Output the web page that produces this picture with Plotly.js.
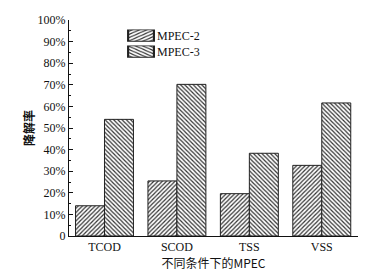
<!DOCTYPE html>
<html><head><meta charset="utf-8">
<script src="https://cdn.plot.ly/plotly-3.0.1.min.js"></script>
<style>html,body{margin:0;padding:0;background:#fff}#chart{width:382px;height:272px}</style>
</head><body><div id="chart"></div>
<script>
const categories = ['TCOD', 'SCOD', 'TSS', 'VSS'];
const mpec2 = [14, 25.5, 19.6, 32.7];
const mpec3 = [54, 70.2, 38.3, 61.6];
const yTickVals = [0, 10, 20, 30, 40, 50, 60, 70, 80, 90, 100];
const yTickText = ['0', '10%', '20%', '30%', '40%', '50%', '60%', '70%', '80%', '90%', '100%'];

const serif = 'Liberation Serif, Times New Roman, serif';
const traces = [
  {type: 'bar', name: 'MPEC-2', x: categories, y: mpec2,
   marker: {color: '#ffffff', line: {color: '#222', width: 1},
            pattern: {shape: '/', fgcolor: '#333', bgcolor: '#fff', size: 3, solidity: 0.4}}},
  {type: 'bar', name: 'MPEC-3', x: categories, y: mpec3,
   marker: {color: '#ffffff', line: {color: '#222', width: 1},
            pattern: {shape: '\\', fgcolor: '#333', bgcolor: '#fff', size: 3, solidity: 0.4}}}
];
const layout = {
  width: 382, height: 272,
  margin: {l: 69, r: 24, t: 20, b: 36},
  paper_bgcolor: '#fff', plot_bgcolor: '#fff',
  font: {family: serif, size: 12, color: '#111'},
  barmode: 'group', bargap: 0.2, bargroupgap: 0,
  showlegend: true,
  legend: {x: 0.18, y: 0.995, xanchor: 'left', yanchor: 'top', bgcolor: 'rgba(0,0,0,0)',
           font: {family: serif, size: 12, color: '#111'}, tracegroupgap: 0},
  xaxis: {range: [-0.49, 3.5], showline: true, linecolor: '#111', linewidth: 1,
          ticks: '', showgrid: false, zeroline: false,
          tickfont: {family: serif, size: 12},
          title: {text: '不同条件下的MPEC', font: {family: 'Noto Sans CJK SC, ' + serif, size: 12}, standoff: 2}},
  yaxis: {range: [0, 100], showline: true, linecolor: '#111', linewidth: 1,
          tickvals: yTickVals, ticktext: yTickText, ticks: 'inside', ticklen: 4, tickcolor: '#111',
          minor: {dtick: 5, ticks: 'inside', ticklen: 2, tickcolor: '#111'},
          showgrid: false, zeroline: false, tickfont: {family: serif, size: 12},
          title: {text: '降解率', font: {family: 'Noto Sans CJK SC, sans-serif', size: 12, weight: 'bold'}, standoff: 0}}
};
Plotly.newPlot('chart', traces, layout, {displayModeBar: false, staticPlot: true}).then(function () {
  // widen legend swatches to match the reference's rectangular keys
  document.querySelectorAll('.legend .legendpoints path').forEach(function (p) {
    const t = p.getAttribute('transform') || '';
    p.setAttribute('transform', t + ' scale(2.15,0.95)');
  });
  document.querySelectorAll('.legend text.legendtext').forEach(function (t) {
    t.setAttribute('x', 36);
  });
  const items = document.querySelectorAll('.legend g.traces');
  items.forEach(function (g, i) {
    const tr = g.getAttribute('transform') || '';
    const m = tr.match(/translate\(([-\d.]+),\s*([-\d.]+)\)/);
    if (m) g.setAttribute('transform', 'translate(' + m[1] + ',' + (parseFloat(m[2]) - 3 * i) + ')');
  });
});
</script></body></html>
